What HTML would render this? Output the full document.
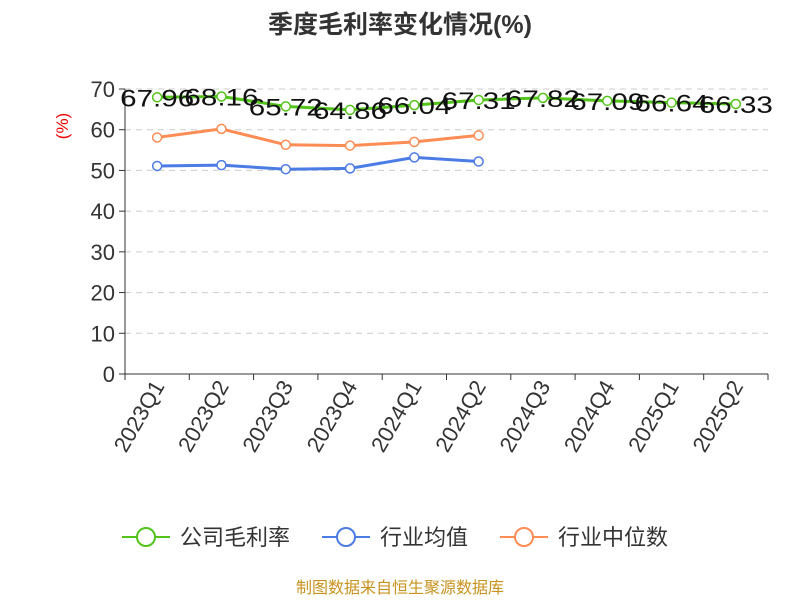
<!DOCTYPE html>
<html><head><meta charset="utf-8"><style>
body{margin:0;background:#fff;width:800px;height:600px;overflow:hidden;font-family:"Liberation Sans","Noto Sans CJK SC",sans-serif}
</style></head><body>
<svg id="c" width="800" height="600" xmlns="http://www.w3.org/2000/svg">
<text x="400" y="33" text-anchor="middle" font-size="25" font-weight="bold" fill="#333" font-family="Liberation Sans, Noto Sans CJK SC, sans-serif">季度毛利率变化情况(%)</text>
<text transform="translate(68,126) rotate(-90)" text-anchor="middle" font-size="17" fill="#e00">(%)</text>
<g id="grid"></g><g id="axes"></g><g id="series"></g>
<g font-size="22" fill="#333" font-family="Liberation Sans, Noto Sans CJK SC, sans-serif">
<g><line x1="122" y1="537" x2="170" y2="537" stroke="#52c41a" stroke-width="2"/><circle cx="146" cy="537" r="9" fill="#fff" stroke="#52c41a" stroke-width="2"/><text x="180" y="545">公司毛利率</text></g>
<g><line x1="322" y1="537" x2="370" y2="537" stroke="#4b7be5" stroke-width="2"/><circle cx="346" cy="537" r="9" fill="#fff" stroke="#4b7be5" stroke-width="2"/><text x="380" y="545">行业均值</text></g>
<g><line x1="500" y1="537" x2="548" y2="537" stroke="#ff8c55" stroke-width="2"/><circle cx="524" cy="537" r="9" fill="#fff" stroke="#ff8c55" stroke-width="2"/><text x="558" y="545">行业中位数</text></g>
</g>
<text x="400" y="593" text-anchor="middle" font-size="16" fill="#c8921e">制图数据来自恒生聚源数据库</text>
</svg>
<script>
const categories=["2023Q1","2023Q2","2023Q3","2023Q4","2024Q1","2024Q2","2024Q3","2024Q4","2025Q1","2025Q2"];
const companyValues=[67.96,68.16,65.72,64.86,66.04,67.31,67.82,67.09,66.64,66.33];
const industryAvg=[51.1,51.3,50.3,50.5,53.2,52.2];
const industryMedian=[58.1,60.2,56.3,56.1,57.0,58.6];
const yTicks=[0,10,20,30,40,50,60,70];
const NS="http://www.w3.org/2000/svg";
const x0=125,x1=768,y0=374,yTop=89,yMax=70;
const bw=(x1-x0)/categories.length;
const xs=i=>x0+bw*(i+0.5);
const ys=v=>y0-(v/yMax)*(y0-yTop);
function mk(t,a,p){const e=document.createElementNS(NS,t);for(const k in a)e.setAttribute(k,a[k]);p.appendChild(e);return e;}
const grid=document.getElementById('grid'),axes=document.getElementById('axes'),ser=document.getElementById('series');
yTicks.forEach(v=>{
 if(v>0){const g=mk('line',{x1:x0,x2:x1,y1:ys(v),y2:ys(v),stroke:'#ccc','stroke-dasharray':'6,5'},grid);
 
 }
 mk('line',{x1:x0-6,x2:x0,y1:ys(v),y2:ys(v),stroke:'#333'},axes);
 const t=mk('text',{x:x0-10,y:ys(v)+8,'text-anchor':'end','font-size':22,fill:'#333'},axes);t.textContent=v;
 
 
});
mk('line',{x1:x0,x2:x0,y1:yTop,y2:y0,stroke:'#333'},axes);
mk('line',{x1:x0,x2:x1,y1:y0,y2:y0,stroke:'#333'},axes);
for(let i=0;i<=categories.length;i++)mk('line',{x1:x0+bw*i,x2:x0+bw*i,y1:y0,y2:y0+6,stroke:'#333'},axes);
categories.forEach((c,i)=>{
 const t=mk('text',{transform:`translate(${xs(i)+8},${y0+12}) rotate(-60)`,'text-anchor':'end','font-size':22,fill:'#333'},axes);
 t.textContent=c;
 
 
});
function series(vals,color,name,labels){
 const g=mk('g',{},ser);
 
 
 mk('polyline',{points:vals.map((v,i)=>xs(i)+','+ys(v)).join(' '),fill:'none',stroke:color,'stroke-width':3},g);
 vals.forEach((v,i)=>{const c=mk('circle',{cx:xs(i),cy:ys(v),r:4.5,fill:'#fff',stroke:color,'stroke-width':1.5},g);
  
  
  if(labels){const t=mk('text',{x:xs(i),y:ys(v)+9,'text-anchor':'middle','font-size':24,fill:'#111','textLength':74,'lengthAdjust':'spacingAndGlyphs'},g);t.textContent=v.toFixed(2);
  
  }
 });
}
series(industryAvg,'#4b7be5','industry-average-line',false);
series(industryMedian,'#ff8c55','industry-median-line',false);
series(companyValues,'#52c41a','company-margin-line',true);
</script>
</body></html>
